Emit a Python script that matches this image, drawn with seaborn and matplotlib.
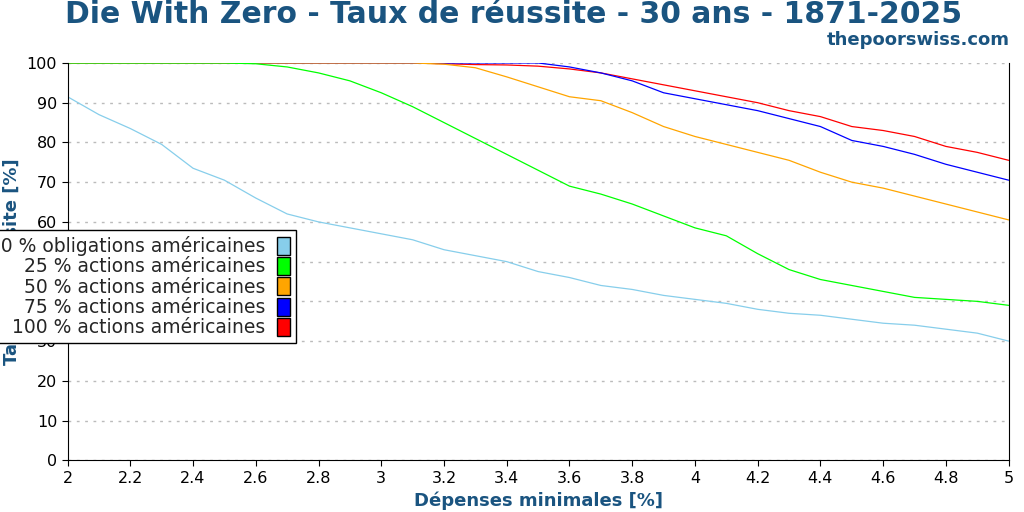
import numpy as np
import pandas as pd
import matplotlib
matplotlib.use("Agg")
import matplotlib.pyplot as plt
import seaborn as sns
from matplotlib.patches import Patch

x = np.round(np.arange(2.0, 5.01, 0.1), 1)

bonds = [91.5, 87, 83.5, 79.5, 73.5, 70.5, 66, 62, 60, 58.5, 57, 55.5, 53, 51.5, 50, 47.5,
         46, 44, 43, 41.5, 40.5, 39.5, 38, 37, 36.5, 35.5, 34.5, 34, 33, 32, 30]
s25 = [100, 100, 100, 100, 100, 100, 99.8, 99, 97.5, 95.5, 92.5, 89, 85, 81, 77, 73,
       69, 67, 64.5, 61.5, 58.5, 56.5, 52, 48, 45.5, 44, 42.5, 41, 40.5, 40, 39]
s50 = [100] * 12 + [99.7, 98.8, 96.5, 94, 91.5, 90.5, 87.5, 84, 81.5, 79.5, 77.5, 75.5,
                    72.5, 70, 68.5, 66.5, 64.5, 62.5, 60.5]
s75 = [100] * 16 + [99, 97.5, 95.5, 92.5, 91, 89.5, 88, 86, 84, 80.5, 79, 77, 74.5, 72.5, 70.5]
s100 = [100] * 12 + [99.8, 99.6, 99.5, 99.2, 98.5, 97.5, 96, 94.5, 93, 91.5, 90, 88,
                     86.5, 84, 83, 81.5, 79, 77.5, 75.5]

labels = ["100 % obligations américaines", "25 % actions américaines",
          "50 % actions américaines", "75 % actions américaines",
          "100 % actions américaines"]
colors = ["skyblue", "lime", "orange", "blue", "red"]
series = [bonds, s25, s50, s75, s100]

sns.set_style("white")
plt.rcParams['font.family'] = ['DejaVu Sans']
fig, ax = plt.subplots(figsize=(10.24, 5.12), dpi=100)
fig.subplots_adjust(left=0.066, right=0.985, top=0.877, bottom=0.101)

# red first so the others show on top at 100 %
for i in [4, 3, 2, 1, 0]:
    df = pd.DataFrame({"x": x, "y": series[i]})
    sns.lineplot(data=df, x="x", y="y", color=colors[i], lw=0.9, ax=ax)

hs = [Patch(facecolor=c, edgecolor="black") for c in colors]
leg = ax.legend(hs, labels, loc="upper right", bbox_to_anchor=(305 / 1024, 1 - 221 / 512),
                bbox_transform=fig.transFigure, markerfirst=False, fontsize=13.5,
                frameon=True, fancybox=False, edgecolor="black", framealpha=1,
                handlelength=0.7, handleheight=1.1, labelspacing=0.05, borderpad=0.3,
                handletextpad=0.6)
leg.get_frame().set_linewidth(1)

ax.set_xlim(2, 5)
ax.set_ylim(0, 100)
ax.set_xticks(np.arange(2, 5.01, 0.2))
ax.set_xticklabels([f"{v:g}" for v in np.round(np.arange(2, 5.01, 0.2), 1)])
ax.set_yticks(range(0, 101, 10))
ax.tick_params(labelsize=11.5, length=4, direction="out", left=True, bottom=True,
               labelcolor="black", color="black")
ax.yaxis.grid(True, linestyle=(0, (2, 4)), color="#bbbbbb", lw=1)
for s in ["left", "bottom", "right"]:
    ax.spines[s].set_color("black")
ax.spines["top"].set_visible(False)

tc = "#1a5480"
ax.set_xlabel("Dépenses minimales [%]", fontsize=13, fontweight="bold", color=tc)
ax.set_ylabel("Taux de réussite [%]", fontsize=13, fontweight="bold", color=tc)
fig.suptitle("Die With Zero - Taux de réussite - 30 ans - 1871-2025", fontsize=21.5,
             fontweight="bold", color=tc, x=0.502, y=1.0)
fig.text(0.986, 0.912, "thepoorswiss.com", ha="right", fontsize=13, fontweight="bold", color=tc)

fig.savefig("out.png")
